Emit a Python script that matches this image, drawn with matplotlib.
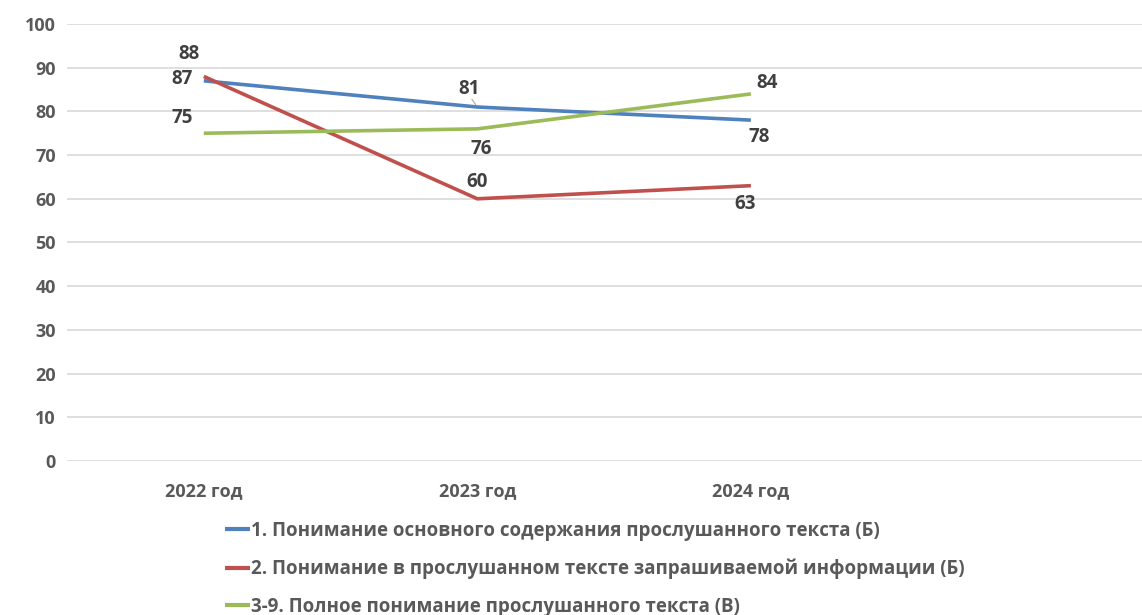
import matplotlib.pyplot as plt

plt.rcParams['font.family'] = ['Open Sans', 'DejaVu Sans']

years = ['2022 год', '2023 год', '2024 год']
series_names = [
    '1. Понимание основного содержания прослушанного текста (Б)',
    '2. Понимание в прослушанном тексте запрашиваемой информации (Б)',
    '3-9. Полное понимание прослушанного текста (В)',
]
s1 = [87, 81, 78]
s2 = [88, 60, 63]
s3 = [75, 76, 84]
colors = ['#4F81BD', '#C0504D', '#9BBB59']

# label placement per point (dx, dy in pixels)
offsets = [
    [(-22, 2), (-8, 18), (8, -17)],
    [(-15, 22), (0, 17), (-6, -18)],
    [(-22, 15), (4, -20), (16, 11)],
]

fig = plt.figure(figsize=(11.42, 6.15), dpi=100)
ax = fig.add_axes([0.0587, 0.2504, 0.9413, 0.7106])

x = list(range(len(years)))
for vals, name, c, offs in zip([s1, s2, s3], series_names, colors, offsets):
    ax.plot(x, vals, color=c, lw=2.6, label=name, solid_capstyle='butt')
    for xi, v, (dx, dy) in zip(x, vals, offs):
        ax.annotate(str(v), (xi, v), xytext=(dx, dy), textcoords='offset pixels',
                    ha='center', va='center', fontsize=13.5, fontweight='bold',
                    color='#404040')

# small leader line for the "81" label
ax.annotate('', (1, s1[1]), xytext=(-7, 10), textcoords='offset pixels',
            arrowprops=dict(arrowstyle='-', color='#A6A6A6', lw=0.8))

ax.set_xlim(-0.5, 3.43)
ax.set_ylim(0, 100)
ax.set_yticks(range(0, 101, 10))
ax.set_xticks(x)
ax.set_xticklabels(years)
ax.grid(axis='y', color='#D9D9D9', lw=1.2)
ax.set_axisbelow(True)
for sp in ax.spines.values():
    sp.set_visible(False)
ax.tick_params(length=0, labelsize=13, labelcolor='#595959', pad=8)
ax.tick_params(axis='x', pad=15)
for t in ax.get_xticklabels() + ax.get_yticklabels():
    t.set_fontweight('bold')

leg = fig.legend(loc='upper left', bbox_to_anchor=(0.197, 0.153), frameon=False,
                 fontsize=13.5, handlelength=1.35, handletextpad=0.05,
                 labelspacing=0.95, borderaxespad=0, borderpad=0)
for t in leg.get_texts():
    t.set_color('#595959')
    t.set_fontweight('bold')
for h in leg.get_lines():
    h.set_linewidth(3)

fig.savefig('out.png', dpi=100)
